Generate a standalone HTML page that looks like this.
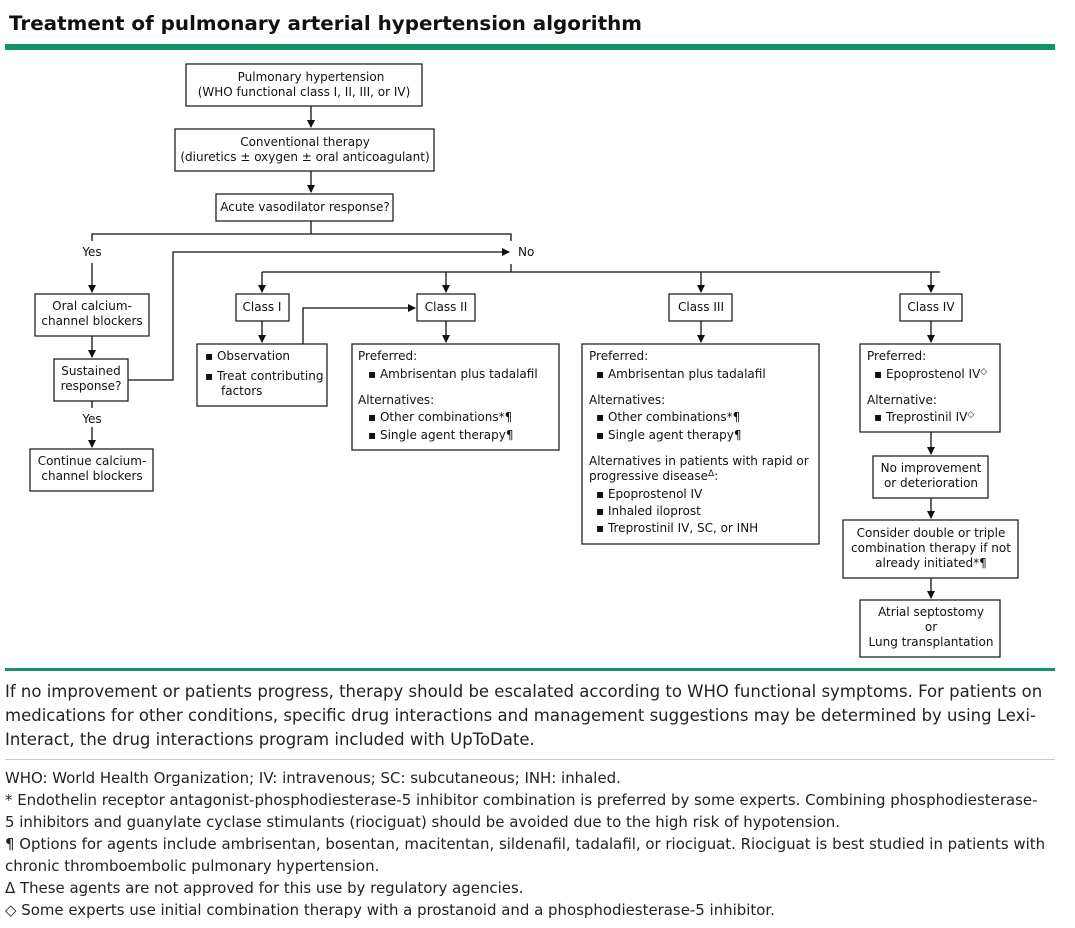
<!DOCTYPE html>
<html><head><meta charset="utf-8"><style>
body{margin:0;width:1075px;height:928px;background:#fff;position:relative;overflow:hidden;font-family:"DejaVu Sans",Verdana,sans-serif;color:#111}
.t{position:absolute;left:9px;top:12px;font-weight:bold;font-size:19.9px;white-space:nowrap;line-height:24px}
.p{position:absolute;left:5px;white-space:nowrap;font-size:16.5px;color:#222;line-height:20px}
.f{position:absolute;left:5px;white-space:nowrap;font-size:14.95px;color:#222;line-height:18px}
svg{position:absolute;left:0;top:0}
svg text{font-family:"DejaVu Sans",Verdana,sans-serif;font-size:12px;fill:#111}
</style></head><body>
<div class="t">Treatment of pulmonary arterial hypertension algorithm</div>
<svg width="1075" height="928">
<defs><marker id="a" markerWidth="8" markerHeight="8" refX="7" refY="4" orient="auto" markerUnits="userSpaceOnUse"><path d="M0,0 L8,4 L0,8 z" fill="#111"/></marker></defs>
<rect x="5" y="44" width="1050" height="6" fill="#12936a"/>
<rect x="5" y="668" width="1050" height="3" fill="#12936a"/>
<rect x="5" y="759" width="1050" height="1" fill="#ccc"/>
<g fill="none" stroke="#222" stroke-width="1.3">
<rect x="186" y="64" width="236" height="42"/>
<rect x="175" y="129" width="259" height="42"/>
<rect x="216" y="194" width="177" height="27"/>
<rect x="35" y="294" width="114" height="42"/>
<rect x="54" y="359" width="74" height="42"/>
<rect x="30" y="449" width="123" height="42"/>
<rect x="236" y="294" width="53" height="27"/>
<rect x="197" y="344" width="130" height="62"/>
<rect x="417" y="294" width="58" height="27"/>
<rect x="352" y="344" width="207" height="106"/>
<rect x="669" y="294" width="63" height="27"/>
<rect x="582" y="344" width="237" height="200"/>
<rect x="900" y="294" width="62" height="27"/>
<rect x="860" y="344" width="140" height="88"/>
<rect x="873" y="456" width="115" height="42"/>
<rect x="843" y="520" width="175" height="58"/>
<rect x="860" y="600" width="140" height="57"/>
</g>
<g fill="none" stroke="#111" stroke-width="1.3">
<line x1="311" y1="106" x2="311" y2="127" marker-end="url(#a)"/>
<line x1="311" y1="171" x2="311" y2="192" marker-end="url(#a)"/>
<polyline points="311,221 311,234"/>
<polyline points="92,241 92,234 511,234 511,241"/>
<line x1="92" y1="263" x2="92" y2="292" marker-end="url(#a)"/>
<line x1="511" y1="264" x2="511" y2="272"/>
<polyline points="262,272 940,272"/>
<line x1="262" y1="272" x2="262" y2="292" marker-end="url(#a)"/>
<line x1="446" y1="272" x2="446" y2="292" marker-end="url(#a)"/>
<line x1="701" y1="272" x2="701" y2="292" marker-end="url(#a)"/>
<line x1="931" y1="272" x2="931" y2="292" marker-end="url(#a)"/>
<line x1="92" y1="336" x2="92" y2="357" marker-end="url(#a)"/>
<polyline points="128,380 173,380 173,252 509,252" marker-end="url(#a)"/>
<line x1="92" y1="401" x2="92" y2="408"/>
<line x1="92" y1="427" x2="92" y2="447" marker-end="url(#a)"/>
<line x1="262" y1="321" x2="262" y2="342" marker-end="url(#a)"/>
<polyline points="303,344 303,308 415,308" marker-end="url(#a)"/>
<line x1="446" y1="321" x2="446" y2="342" marker-end="url(#a)"/>
<line x1="701" y1="321" x2="701" y2="342" marker-end="url(#a)"/>
<line x1="931" y1="321" x2="931" y2="342" marker-end="url(#a)"/>
<line x1="931" y1="432" x2="931" y2="454" marker-end="url(#a)"/>
<line x1="931" y1="498" x2="931" y2="518" marker-end="url(#a)"/>
<line x1="931" y1="578" x2="931" y2="598" marker-end="url(#a)"/>
</g>
<g text-anchor="middle">
<text x="311" y="81">Pulmonary hypertension</text>
<text x="304" y="96">(WHO functional class I, II, III, or IV)</text>
<text x="305" y="146">Conventional therapy</text>
<text x="305" y="161">(diuretics ± oxygen ± oral anticoagulant)</text>
<text x="305" y="211">Acute vasodilator response?</text>
<text x="92" y="256">Yes</text>
<text x="92" y="310">Oral calcium-</text>
<text x="92" y="325">channel blockers</text>
<text x="91" y="375">Sustained</text>
<text x="91" y="390">response?</text>
<text x="92" y="423">Yes</text>
<text x="92" y="465">Continue calcium-</text>
<text x="92" y="480">channel blockers</text>
<text x="262" y="311">Class I</text>
<text x="446" y="311">Class II</text>
<text x="701" y="311">Class III</text>
<text x="931" y="311">Class IV</text>
<text x="931" y="472">No improvement</text>
<text x="931" y="487">or deterioration</text>
<text x="931" y="537">Consider double or triple</text>
<text x="931" y="552">combination therapy if not</text>
<text x="931" y="567">already initiated*¶</text>
<text x="931" y="616">Atrial septostomy</text>
<text x="931" y="631">or</text>
<text x="931" y="646">Lung transplantation</text>
</g>
<text x="518" y="256">No</text>
<text x="205" y="360">▪ Observation</text>
<text x="205" y="380">▪ Treat contributing</text>
<text x="221" y="395">factors</text>
<text x="358" y="360">Preferred:</text>
<text x="368" y="378">▪ Ambrisentan plus tadalafil</text>
<text x="358" y="404">Alternatives:</text>
<text x="368" y="421">▪ Other combinations*¶</text>
<text x="368" y="439">▪ Single agent therapy¶</text>
<text x="589" y="360">Preferred:</text>
<text x="596" y="378">▪ Ambrisentan plus tadalafil</text>
<text x="589" y="404">Alternatives:</text>
<text x="596" y="421">▪ Other combinations*¶</text>
<text x="596" y="439">▪ Single agent therapy¶</text>
<text x="589" y="465">Alternatives in patients with rapid or</text>
<text x="589" y="480">progressive disease<tspan font-size="9" dy="-4">Δ</tspan><tspan dy="4">:</tspan></text>
<text x="596" y="498">▪ Epoprostenol IV</text>
<text x="596" y="515">▪ Inhaled iloprost</text>
<text x="596" y="532">▪ Treprostinil IV, SC, or INH</text>
<text x="867" y="360">Preferred:</text>
<text x="874" y="378">▪ Epoprostenol IV<tspan font-size="9" dy="-4">◇</tspan></text>
<text x="867" y="404">Alternative:</text>
<text x="874" y="421">▪ Treprostinil IV<tspan font-size="9" dy="-4">◇</tspan></text>
</svg>
<div class="p" style="top:682px">If no improvement or patients progress, therapy should be escalated according to WHO functional symptoms. For patients on</div>
<div class="p" style="top:706px">medications for other conditions, specific drug interactions and management suggestions may be determined by using Lexi-</div>
<div class="p" style="top:730px">Interact, the drug interactions program included with UpToDate.</div>
<div class="f" style="top:769px">WHO: World Health Organization; IV: intravenous; SC: subcutaneous; INH: inhaled.</div>
<div class="f" style="top:791px">* Endothelin receptor antagonist-phosphodiesterase-5 inhibitor combination is preferred by some experts. Combining phosphodiesterase-</div>
<div class="f" style="top:813px">5 inhibitors and guanylate cyclase stimulants (riociguat) should be avoided due to the high risk of hypotension.</div>
<div class="f" style="top:835px">¶ Options for agents include ambrisentan, bosentan, macitentan, sildenafil, tadalafil, or riociguat. Riociguat is best studied in patients with</div>
<div class="f" style="top:857px">chronic thromboembolic pulmonary hypertension.</div>
<div class="f" style="top:879px">Δ These agents are not approved for this use by regulatory agencies.</div>
<div class="f" style="top:901px">◇ Some experts use initial combination therapy with a prostanoid and a phosphodiesterase-5 inhibitor.</div>
</body></html>
